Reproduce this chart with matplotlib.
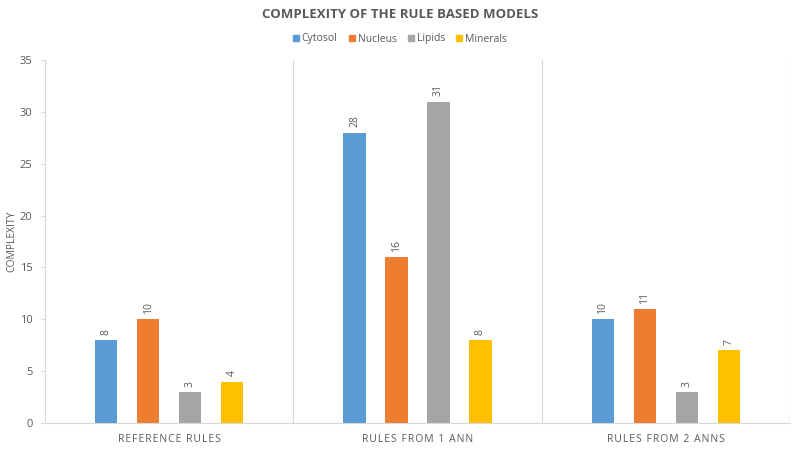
import matplotlib
matplotlib.use("Agg")
import matplotlib.pyplot as plt
from matplotlib.patches import Rectangle
import numpy as np

categories = ["REFERENCE RULES", "RULES FROM 1 ANN", "RULES FROM 2 ANNS"]
series_names = ["Cytosol", "Nucleus", "Lipids", "Minerals"]
cytosol = [8, 28, 10]
nucleus = [10, 16, 11]
lipids = [3, 31, 3]
minerals = [4, 8, 7]
colors = ["#5B9BD5", "#ED7D31", "#A5A5A5", "#FFC000"]
yticks = [0, 5, 10, 15, 20, 25, 30, 35]

plt.rcParams['font.family'] = ['Open Sans', 'DejaVu Sans']
txt = "#595959"
W, H = 800, 453
fig = plt.figure(figsize=(8, 4.53), dpi=100)
ax = fig.add_axes([0.05625, 0.0662, 0.93125, 0.8013])

def spaced(s):
    return "\u200a".join(s)

series = [cytosol, nucleus, lipids, minerals]
x = np.arange(len(categories))
slot = 0.169
width = 0.089
for i, (vals, name, c) in enumerate(zip(series, series_names, colors)):
    xs = x + (i - 1.5) * slot
    bars = ax.bar(xs, vals, width=width, color=c, label=name, zorder=3)
    for b, v in zip(bars, vals):
        ax.text(b.get_x() + b.get_width() / 2, v + 0.5, str(v), rotation=90,
                ha="center", va="bottom", fontsize=7.5, color=txt)

ax.set_xlim(-0.5, len(categories) - 0.5)
ax.set_ylim(0, 35)
ax.set_yticks(yticks)
ax.set_xticks(x)
ax.set_xticklabels([spaced(c) for c in categories], fontsize=7.5, color=txt)
ax.tick_params(axis="x", length=0, pad=8)
ax.tick_params(axis="y", labelsize=8, colors=txt, length=3, color="#D9D9D9", pad=6)
for sep in np.arange(0.5, len(categories) - 0.5 + 1e-9, 1.0):
    ax.axvline(sep, color="#D9D9D9", lw=0.8, zorder=1)
for s in ["top", "right"]:
    ax.spines[s].set_visible(False)
ax.spines["left"].set_color("#D9D9D9")
ax.spines["bottom"].set_color("#D9D9D9")
ax.axvline(len(categories) - 0.5, color="#D9D9D9", lw=0.8, zorder=1)
ax.set_ylabel("COMPLEXITY", fontsize=7.5, color=txt, labelpad=2)

fig.text(0.5, 1 - 15 / H, "COMPLEXITY OF THE RULE BASED MODELS", ha="center", va="center",
         fontsize=9.5, fontweight="bold", color=txt)

# legend drawn manually, entries sharing one baseline
renderer = fig.canvas.get_renderer()
sq = 6
gap_after_sq = 3
gap_between = 11
texts = []
widths = []
for name in series_names:
    t = fig.text(0, 0, name, fontsize=7.5, color=txt, va="baseline", ha="left")
    bb = t.get_window_extent(renderer)
    widths.append(bb.width)
    texts.append(t)
total = sum(sq + gap_after_sq + w for w in widths) + gap_between * (len(widths) - 1)
cx = W / 2 - total / 2
yc = 38
for t, w, c in zip(texts, widths, colors):
    fig.patches.append(Rectangle((cx / W, 1 - (yc + sq / 2) / H), sq / W, sq / H,
                                 transform=fig.transFigure, color=c, figure=fig))
    t.set_position(((cx + sq + gap_after_sq) / W, 1 - (yc + 3.5) / H))
    cx += sq + gap_after_sq + w + gap_between

fig.savefig("out.png", dpi=100)
